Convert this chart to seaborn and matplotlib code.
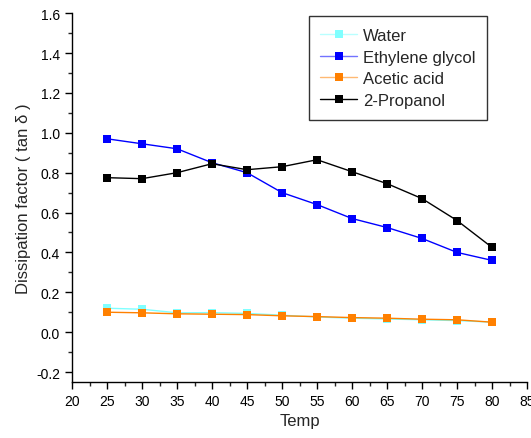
import pandas as pd
import matplotlib
matplotlib.use("Agg")
import matplotlib.pyplot as plt
from matplotlib.colors import to_rgb
from matplotlib.ticker import MultipleLocator
import seaborn as sns

# data
temp = [25, 30, 35, 40, 45, 50, 55, 60, 65, 70, 75, 80]
water = [0.12, 0.115, 0.097, 0.098, 0.094, 0.085, 0.076, 0.07, 0.066, 0.062, 0.058, 0.05]
ethylene_glycol = [0.97, 0.945, 0.92, 0.85, 0.80, 0.70, 0.64, 0.57, 0.525, 0.47, 0.40, 0.36]
acetic_acid = [0.10, 0.097, 0.092, 0.09, 0.088, 0.082, 0.078, 0.073, 0.07, 0.065, 0.062, 0.05]
propanol = [0.775, 0.77, 0.80, 0.845, 0.815, 0.83, 0.865, 0.805, 0.745, 0.67, 0.56, 0.425]

series_names = ["Water", "Ethylene glycol", "Acetic acid", "2-Propanol"]
series_colors = ["#80ffff", "#0000ff", "#ff8000", "#000000"]

# long form table for seaborn
df = pd.DataFrame({
    "Temp": temp * 4,
    "value": water + ethylene_glycol + acetic_acid + propanol,
    "solvent": [n for n in series_names for _ in temp],
})

sns.set_style("ticks")
plt.rcParams["font.family"] = ["Liberation Sans", "DejaVu Sans"]

fig = plt.figure(figsize=(5.31, 4.39), dpi=100)
ax = fig.add_axes([0.1356, 0.1276, 0.857, 0.840])

sns.lineplot(data=df, x="Temp", y="value", hue="solvent", hue_order=series_names,
             palette=series_colors, marker="s", markersize=6, markeredgewidth=0,
             linewidth=1, ax=ax)

ax.set_xlim(20, 85)
ax.set_ylim(-0.25, 1.6)
ax.xaxis.set_major_locator(MultipleLocator(5))
ax.xaxis.set_minor_locator(MultipleLocator(2.5))
ax.yaxis.set_minor_locator(MultipleLocator(0.1))
ax.set_yticks([-0.2, 0.0, 0.2, 0.4, 0.6, 0.8, 1.0, 1.2, 1.4, 1.6])
ax.set_yticklabels(["-0.2", "0.0", "0.2", "0.4", "0.6", "0.8", "1.0", "1.2", "1.4", "1.6"])
ax.tick_params(which="major", direction="out", length=5, width=1, labelsize=10, colors="black")
ax.tick_params(which="minor", direction="out", length=3, width=1)
for s in ["top", "right"]:
    ax.spines[s].set_visible(False)
for s in ["left", "bottom"]:
    ax.spines[s].set_linewidth(1)
    ax.spines[s].set_color("black")

ax.set_xlabel("Temp", fontsize=12)
ax.set_ylabel("Dissipation factor ( tan \u03b4 )", fontsize=12)

leg = ax.legend(title=None, loc="upper left", bbox_to_anchor=(0.52, 0.992),
                fontsize=12, frameon=True, fancybox=False, edgecolor="black",
                handlelength=2.2, handletextpad=0.35, borderpad=0.7,
                labelspacing=0.4, borderaxespad=0)
leg.get_frame().set_linewidth(1)
# legend lines a bit paler than the solid markers
for line, c in zip(leg.get_lines(), series_colors):
    r, g, b = to_rgb(c)
    line.set_color((r + (1 - r) * 0.45, g + (1 - g) * 0.45, b + (1 - b) * 0.45) if c != "#000000" else c)
    line.set_markerfacecolor(c)
    line.set_markeredgecolor(c)

fig.savefig("out.png", dpi=100)
